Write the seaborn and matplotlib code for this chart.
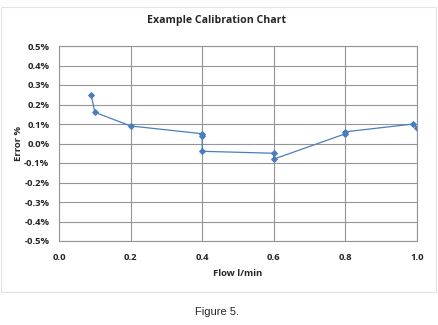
import matplotlib
matplotlib.use("Agg")
import matplotlib.pyplot as plt
from matplotlib.patches import Rectangle
from matplotlib.ticker import FuncFormatter
import numpy as np
import pandas as pd
import seaborn as sns

# Calibration readings, in the order they were taken
flow = [0.09, 0.10, 0.20, 0.40, 0.40, 0.40, 0.60, 0.60, 0.80, 0.80, 0.99, 1.00]
error_pct = [0.25, 0.16, 0.09, 0.05, 0.04, -0.04, -0.05, -0.08, 0.05, 0.06, 0.10, 0.08]

x_ticks = [0.0, 0.2, 0.4, 0.6, 0.8, 1.0]
y_ticks = [0.5, 0.4, 0.3, 0.2, 0.1, 0.0, -0.1, -0.2, -0.3, -0.4, -0.5]

title = "Example Calibration Chart"
x_label = "Flow l/min"
y_label = "Error %"
caption = "Figure 5."

df = pd.DataFrame({"flow": flow, "error": error_pct})

sns.set_theme(style="white")
plt.rcParams["font.family"] = ["Open Sans", "DejaVu Sans"]

fig = plt.figure(figsize=(4.38, 3.25), dpi=100)
ax = fig.add_axes([59 / 438, 1 - 241 / 325, (417 - 59) / 438, (241 - 46) / 325])

sns.lineplot(data=df, x="flow", y="error", sort=False, estimator=None,
             errorbar=None, ax=ax,
             color="#4A7EBB", linewidth=0.9, marker="D", markersize=3.0,
             markeredgecolor="#4A7EBB", markerfacecolor="#4A7EBB")

ax.set_xlim(0, 1.0)
ax.set_ylim(-0.5, 0.5)
ax.set_xticks(x_ticks)
ax.set_yticks(y_ticks)
ax.xaxis.set_major_formatter(FuncFormatter(lambda v, _: f"{v:.1f}"))
ax.yaxis.set_major_formatter(FuncFormatter(lambda v, _: f"{v:.1f}%".replace("-0.0%", "0.0%")))
ax.grid(True, color="#959595", linewidth=0.8)
for s in ax.spines.values():
    s.set_color("#959595")
    s.set_linewidth(0.8)
ax.tick_params(axis="both", length=0, labelsize=6.8)
ax.tick_params(axis="x", pad=9)
ax.tick_params(axis="y", pad=7)
for lbl in ax.get_xticklabels() + ax.get_yticklabels():
    lbl.set_fontweight("bold")

ax.set_xlabel(x_label, fontsize=6.8, fontweight="bold", labelpad=5)
ax.set_ylabel(y_label, fontsize=6.8, fontweight="bold", labelpad=1)

fig.text(217 / 438, 1 - 20 / 325, title, ha="center", va="center",
         fontsize=7.6, fontweight="bold")

# Chart area frame
fig.patches.append(Rectangle((0.5 / 438, 1 - 292 / 325), 435 / 438, 285 / 325,
                             transform=fig.transFigure, fill=False,
                             edgecolor="#E3E3E3", linewidth=0.8))

fig.text(217 / 438, 1 - 312 / 325, caption, ha="center", va="center",
         fontsize=8, family=["Liberation Sans", "DejaVu Sans"])

fig.savefig("out.png", dpi=100)
